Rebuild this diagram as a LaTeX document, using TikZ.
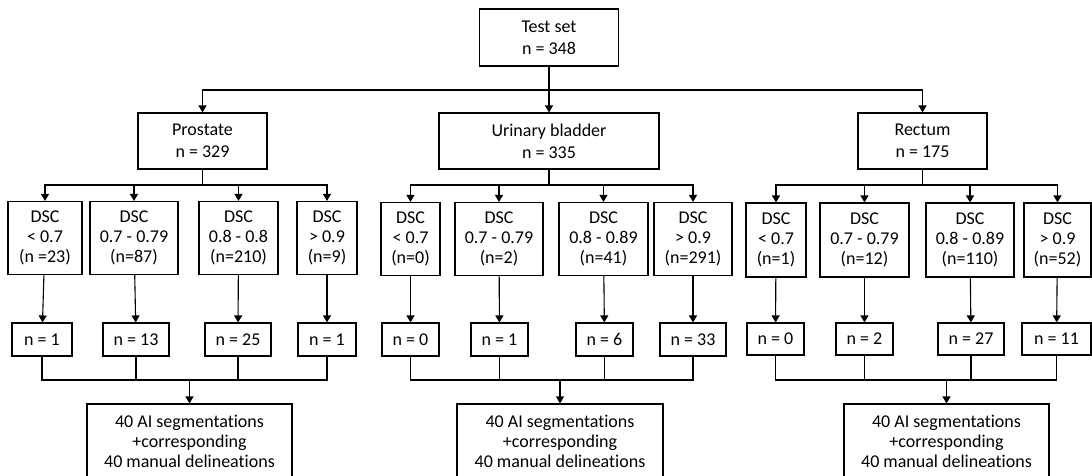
\documentclass[tikz,border=0pt]{standalone}
\usepackage{fontspec}
\setmainfont[Ligatures=NoCommon]{Carlito}
\usetikzlibrary{arrows.meta,positioning}
\tikzset{
  boxnd/.style={draw, line width=1.1pt, inner sep=0pt, align=center, font=\fontsize{18}{20}\selectfont},
  topnd/.style={boxnd, font=\fontsize{18}{22}\selectfont},
  arrln/.style={-{Triangle[length=7pt,width=8pt]}, line width=1.1pt},
  joinln/.style={line width=1.1pt},
}

\begin{document}
\begin{tikzpicture}[x=1pt,y=-1pt]
  \useasboundingbox (0,0) rectangle (1092,475);
  % top level
  \node[topnd, minimum width=139pt, minimum height=57pt] (test) at (549,37.5) {Test set\\n = 348};
  \node[topnd, minimum width=129pt, minimum height=56pt] (prost) at (202.5,141) {Prostate\\n = 329};
  \node[topnd, minimum width=220pt, minimum height=56pt] (urin) at (549,141) {Urinary bladder\\n = 335};
  \node[topnd, minimum width=129pt, minimum height=56pt] (rect) at (922.5,141) {Rectum\\n = 175};
  \coordinate (split) at (549,90);
  \draw[arrln] (test) -- (urin);
  \draw[arrln] (split) -| (prost);
  \draw[arrln] (split) -| (rect);

  % prostate
  \foreach \i/\cx/\w/\txt in {1/45/74/{DSC\\< 0.7\\(n =23)}, 2/134/88/{DSC\\0.7 - 0.79\\(n=87)},
      3/238.5/79/{DSC\\0.8 - 0.8\\(n=210)}, 4/327/60/{DSC\\> 0.9\\(n=9)}}
    \node[boxnd, minimum width=\w pt, minimum height=73pt] (pd\i) at (\cx,238) {\txt};
  \foreach \i/\cx/\w/\txt in {1/42/60/1, 2/136/66/13, 3/238/66/25, 4/327/58/1}
    \node[boxnd, minimum width=\w pt, minimum height=33pt] (pn\i) at (\cx,339.5) {n = \txt};
  \node[boxnd, minimum width=205pt, minimum height=74pt] (pfin) at (189.5,441)
    {40 AI segmentations\\+corresponding\\40 manual delineations};
  \coordinate (psplit) at (202.5,185);
  \coordinate (pjoin) at (189.5,380);
  \draw[joinln] (prost) -- (psplit);
  \foreach \i in {1,...,4} {
    \draw[arrln] (psplit) -| (pd\i);
    \draw[arrln] (pd\i) -- (pn\i);
    \draw[joinln] (pn\i) |- (pjoin);
  }
  \draw[arrln] (pjoin) -- (pfin);

  % urinary bladder
  \foreach \i/\cx/\w/\txt in {1/410.5/59/{DSC\\< 0.7\\(n=0)}, 2/499/88/{DSC\\0.7 - 0.79\\(n=2)},
      3/603.5/89/{DSC\\0.8 - 0.89\\(n=41)}, 4/693/78/{DSC\\> 0.9\\(n=291)}}
    \node[boxnd, minimum width=\w pt, minimum height=73pt] (ud\i) at (\cx,239) {\txt};
  \foreach \i/\cx/\w/\txt in {1/410.5/57/0, 2/499.5/57/1, 3/604.5/57/6, 4/693/66/33}
    \node[boxnd, minimum width=\w pt, minimum height=33pt] (un\i) at (\cx,339.5) {n = \txt};
  \node[boxnd, minimum width=206pt, minimum height=74pt] (ufin) at (560,441)
    {40 AI segmentations\\+corresponding\\40 manual delineations};
  \coordinate (usplit) at (549,185);
  \coordinate (ujoin) at (560,380);
  \draw[joinln] (urin) -- (usplit);
  \foreach \i in {1,...,4} {
    \draw[arrln] (usplit) -| (ud\i);
    \draw[arrln] (ud\i) -- (un\i);
    \draw[joinln] (un\i) |- (ujoin);
  }
  \draw[arrln] (ujoin) -- (ufin);

  % rectum
  \foreach \i/\cx/\w/\txt in {1/776/60/{DSC\\< 0.7\\(n=1)}, 2/864.5/89/{DSC\\0.7 - 0.79\\(n=12)},
      3/970/88/{DSC\\0.8 - 0.89\\(n=110)}, 4/1057.5/67/{DSC\\> 0.9\\(n=52)}}
    \node[boxnd, minimum width=\w pt, minimum height=74pt] (rd\i) at (\cx,240) {\txt};
  \foreach \i/\cx/\w/\txt in {1/775.5/57/0, 2/864.5/57/2, 3/971/66/27, 4/1056.5/69/11}
    \node[boxnd, minimum width=\w pt, minimum height=32pt] (rn\i) at (\cx,339) {n = \txt};
  \node[boxnd, minimum width=205pt, minimum height=74pt] (rfin) at (946.5,441)
    {40 AI segmentations\\+corresponding\\40 manual delineations};
  \coordinate (rsplit) at (922.5,185);
  \coordinate (rjoin) at (946.5,380);
  \draw[joinln] (rect) -- (rsplit);
  \foreach \i in {1,...,4} {
    \draw[arrln] (rsplit) -| (rd\i);
    \draw[arrln] (rd\i) -- (rn\i);
    \draw[joinln] (rn\i) |- (rjoin);
  }
  \draw[arrln] (rjoin) -- (rfin);
\end{tikzpicture}
\end{document}
